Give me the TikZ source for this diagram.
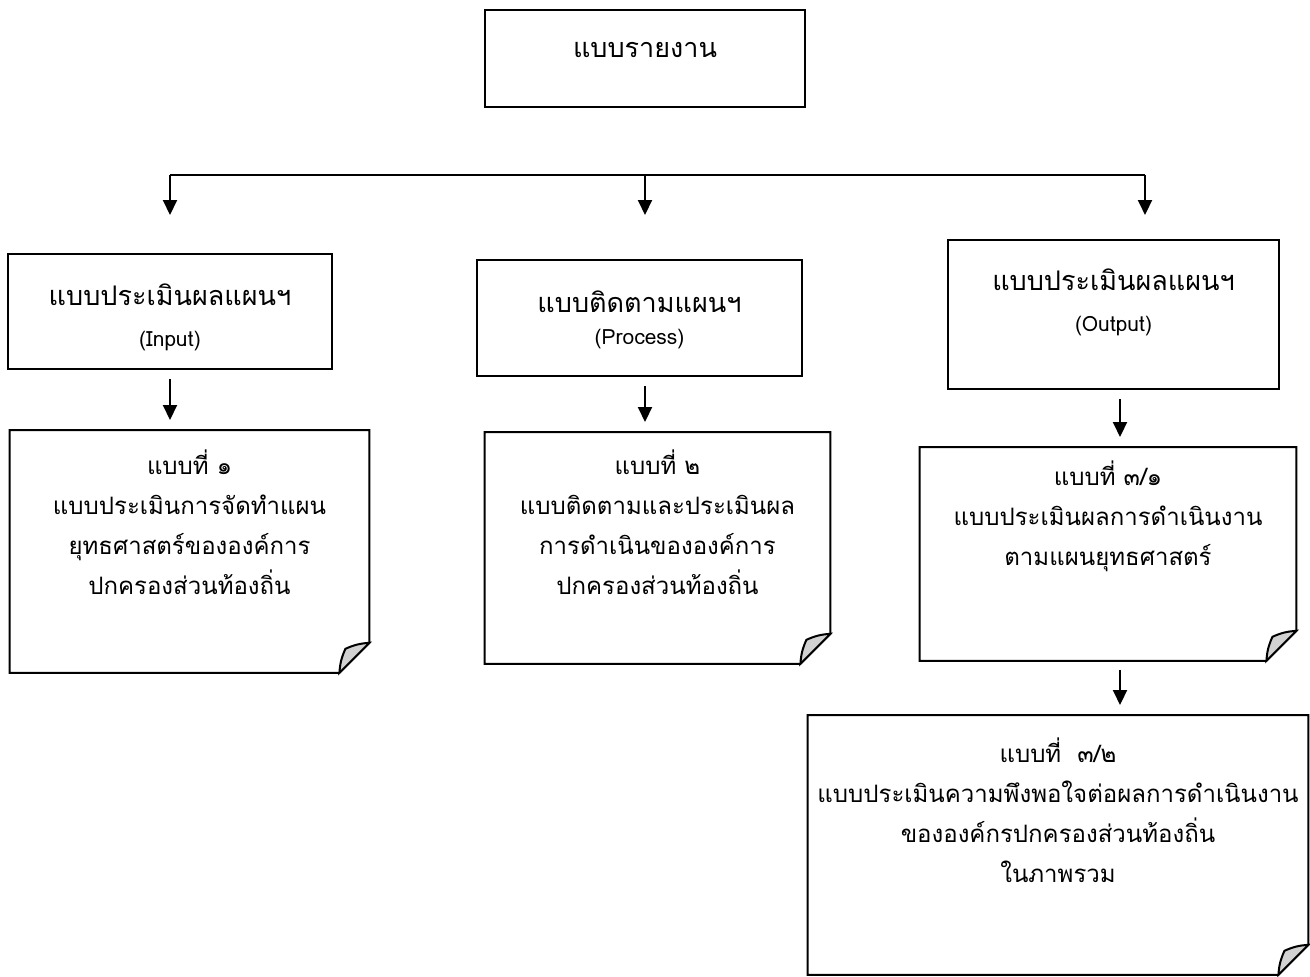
\documentclass[tikz,border=0pt]{standalone}
\usepackage{fontspec}
\newfontfamily\thaifont[Script=Thai]{Loma}
\usetikzlibrary{arrows.meta}

\newcommand\foldpaper[1]{%
  \draw[line width=1pt] (#1.north west) -- (#1.north east) -- ([yshift=15pt]#1.south east)
    -- ([xshift=-15pt]#1.south east) -- (#1.south west) -- cycle;
  \draw[line width=1pt, fill=gray!35] ([xshift=-15pt]#1.south east) to[bend left=10]
    ([xshift=-12pt,yshift=12pt]#1.south east) to[bend left=10] ([yshift=15pt]#1.south east) -- cycle;
}

\begin{document}
\begin{tikzpicture}[x=0.5pt, y=-0.5pt,
    frame/.style={draw, line width=1pt, inner sep=0pt, anchor=north, align=center,
      font=\thaifont\fontsize{13.5}{20}\selectfont},
    paper/.style={inner sep=0pt, anchor=north, align=center,
      font=\thaifont\fontsize{12}{20}\selectfont},
    arr/.style={line width=1pt, -{Triangle[length=7.5pt,width=7pt]}},
    gap/.style={shorten <=4.5pt, shorten >=5pt}]
        \useasboundingbox (0,0) rectangle (1310,976);

        \node[frame, text width=160pt, text height=23.5pt, text depth=25pt] (report) at (645,9) {แบบรายงาน};

        \node[frame, text width=162pt, text height=25.5pt, text depth=32pt] (input) at (170,253)
            {แบบประเมินผลแผนฯ\\[0.5pt]{\fontsize{10.5}{20}\selectfont (Input)}};
        \node[frame, text width=162.5pt, text height=26pt, text depth=32pt] (process) at (639.5,259)
            {แบบติดตามแผนฯ\\[-4pt]{\fontsize{10.5}{20}\selectfont (Process)}};
        \node[frame, text width=165.5pt, text height=25pt, text depth=49.5pt] (output) at (1113.5,239)
            {แบบประเมินผลแผนฯ\\[0.5pt]{\fontsize{10.5}{20}\selectfont (Output)}};

        \node[paper, text width=179.5pt, text height=22pt, text depth=99pt] (form1) at (189.5,430)
            {แบบที่ ๑\\แบบประเมินการจัดทำแผน\\ยุทธศาสตร์ขององค์การ\\ปกครองส่วนท้องถิ่น};
        \node[paper, text width=172.5pt, text height=21pt, text depth=94.5pt] (form2) at (657.5,432)
            {แบบที่ ๒\\แบบติดตามและประเมินผล\\การดำเนินขององค์การ\\ปกครองส่วนท้องถิ่น};
        \node[paper, text width=188pt, text height=19pt, text depth=87.5pt] (form31) at (1108,447)
            {แบบที่ ๓/๑\\แบบประเมินผลการดำเนินงาน\\ตามแผนยุทธศาสตร์};
        \node[paper, text width=250pt, text height=23.5pt, text depth=106pt] (form32) at (1058,715)
            {แบบที่\ \ ๓/๒\\แบบประเมินความพึงพอใจต่อผลการดำเนินงาน\\ขององค์กรปกครองส่วนท้องถิ่น\\ในภาพรวม};

        \foldpaper{form1}
        \foldpaper{form2}
        \foldpaper{form31}
        \foldpaper{form32}

        \coordinate (busL) at (170,175);
        \coordinate (busM) at (645,175);
        \coordinate (busR) at (1145,175);
        \coordinate (tipL) at (170,215);
        \coordinate (tipM) at (645,215);
        \coordinate (tipR) at (1145,215);
        \coordinate (colR) at (1120,0);

        \draw[line width=1pt] (busL) -- (busR);
        \draw[arr] (busL) -- (tipL);
        \draw[arr] (busM) -- (tipM);
        \draw[arr] (busR) -- (tipR);

        \draw[arr, gap] (input.south) -- (input.south |- form1.north);
        \draw[arr, gap] (process.south -| busM) -- (busM |- form2.north);
        \draw[arr, gap] (colR |- output.south) -- (colR |- form31.north);
        \draw[arr, gap] (colR |- form31.south) -- (colR |- form32.north);

    \end{tikzpicture}
\end{document}
